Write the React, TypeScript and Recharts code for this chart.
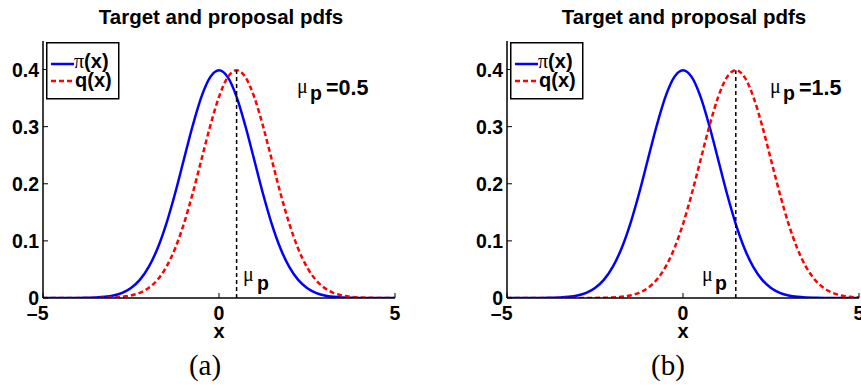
import React from 'react';
import { LineChart, Line, XAxis, YAxis, ReferenceLine, Legend } from 'recharts';

const xValues = [
  -5, -4.75, -4.5, -4.25, -4, -3.75, -3.5, -3.25, -3, -2.75, -2.5, -2.25, -2, -1.75, -1.5, -1.25, -1, -0.75, -0.5, -0.25,
  0, 0.25, 0.5, 0.75, 1, 1.25, 1.5, 1.75, 2, 2.25, 2.5, 2.75, 3, 3.25, 3.5, 3.75, 4, 4.25, 4.5, 4.75, 5,
];

// pi(x): target pdf
const targetPdf = [
  0, 0, 0, 0, 0.0001, 0.0004, 0.0009, 0.002, 0.0044, 0.0091, 0.0175, 0.0317, 0.054, 0.0863, 0.1295, 0.1826, 0.242, 0.3011, 0.3521, 0.3867,
  0.3989, 0.3867, 0.3521, 0.3011, 0.242, 0.1826, 0.1295, 0.0863, 0.054, 0.0317, 0.0175, 0.0091, 0.0044, 0.002, 0.0009, 0.0004, 0.0001, 0, 0, 0, 0,
];

// q(x): proposal pdf, panel (a)
const proposalPdfA = [
  0, 0, 0, 0, 0, 0, 0.0001, 0.0004, 0.0009, 0.002, 0.0044, 0.0091, 0.0175, 0.0317, 0.054, 0.0863, 0.1295, 0.1826, 0.242, 0.3011,
  0.3521, 0.3867, 0.3989, 0.3867, 0.3521, 0.3011, 0.242, 0.1826, 0.1295, 0.0863, 0.054, 0.0317, 0.0175, 0.0091, 0.0044, 0.002, 0.0009, 0.0004, 0.0001, 0, 0,
];

// q(x): proposal pdf, panel (b)
const proposalPdfB = [
  0, 0, 0, 0, 0, 0, 0, 0, 0, 0, 0.0001, 0.0004, 0.0009, 0.002, 0.0044, 0.0091, 0.0175, 0.0317, 0.054, 0.0863,
  0.1295, 0.1826, 0.242, 0.3011, 0.3521, 0.3867, 0.3989, 0.3867, 0.3521, 0.3011, 0.242, 0.1826, 0.1295, 0.0863, 0.054, 0.0317, 0.0175, 0.0091, 0.0044, 0.002, 0.0009,
];

const muA = 0.5;
const muB = 1.5;
const peakValue = 0.3989;

const xTicks = [-5, 0, 5];
const yTicks = [0, 0.1, 0.2, 0.3, 0.4];
const yTickLabels = ['0', '0.1', '0.2', '0.3', '0.4'];
const xDomain = [-5, 5];
const yDomain = [0, 0.45];

const chartTitle = 'Target and proposal pdfs';
const xAxisLabel = 'x';
const panelLabels = ['(a)', '(b)'];
const legendLabels = ['(x)', 'q(x)'];

const SANS = '"Liberation Sans", Arial, Helvetica, sans-serif';
const SERIF = '"Liberation Serif", "Times New Roman", serif';
const BLUE = '#0000ff';
const RED = '#ff0000';
const TICK_FS = 19.5;

const buildData = (proposal: number[]) =>
  xValues.map((x, i) => ({ x, target: targetPdf[i], proposal: proposal[i] }));

const dataA = buildData(proposalPdfA);
const dataB = buildData(proposalPdfB);

const BottomTick = (props: any) => {
  const { x, y, payload } = props;
  const v = payload.value as number;
  const neg = v < 0;
  const label = neg ? '\u2013' + Math.abs(v) : String(v);
  return (
    <g>
      <line x1={x} y1={y} x2={x} y2={y - 5} stroke="#000" strokeWidth={1} />
      <text
        x={neg ? x + 5.5 : x}
        y={y + 22}
        textAnchor={neg ? 'end' : 'middle'}
        fontFamily={SANS}
        fontWeight="bold"
        fontSize={TICK_FS}
        fill="#000"
      >
        {label}
      </text>
    </g>
  );
};

const LeftTick = (props: any) => {
  const { x, y, payload } = props;
  const idx = yTicks.indexOf(payload.value);
  return (
    <g>
      <line x1={x} y1={y} x2={x + 5} y2={y} stroke="#000" strokeWidth={1} />
      <text
        x={x - 4}
        y={y + 7}
        textAnchor="end"
        fontFamily={SANS}
        fontWeight="bold"
        fontSize={TICK_FS}
        fill="#000"
      >
        {idx >= 0 ? yTickLabels[idx] : String(payload.value)}
      </text>
    </g>
  );
};

const TopTick = (props: any) => {
  const { x, y } = props;
  return <line x1={x} y1={y} x2={x} y2={y + 5} stroke="#000" strokeWidth={1} />;
};

const RightTick = (props: any) => {
  const { x, y } = props;
  return <line x1={x} y1={y} x2={x - 5} y2={y} stroke="#000" strokeWidth={1} />;
};

const LegendBox = () => (
  <svg width={75} height={58} style={{ display: 'block' }}>
    <rect x={0.75} y={0.75} width={72} height={56} fill="#fff" stroke="#000" strokeWidth={1.5} />
    <line x1={5} y1={22} x2={28} y2={22} stroke={BLUE} strokeWidth={2.5} />
    <text x={28} y={26} fontSize={20} fill="#000">
      <tspan fontFamily={SERIF}>{'\u03c0'}</tspan>
      <tspan fontFamily={SANS} fontWeight="bold">{legendLabels[0]}</tspan>
    </text>
    <line x1={5} y1={39} x2={28} y2={39} stroke={RED} strokeWidth={2.5} strokeDasharray="5 3" />
    <text x={29} y={45} fontSize={20} fontFamily={SANS} fontWeight="bold" fill="#000">
      {legendLabels[1]}
    </text>
  </svg>
);

const Panel = ({ data, mu }: { data: any[]; mu: number }) => (
  <LineChart width={430} height={389} data={data} margin={{ top: 41, right: 35, bottom: 61, left: 0 }}>
    <XAxis
      dataKey="x"
      type="number"
      domain={xDomain}
      ticks={xTicks}
      allowDataOverflow
      height={30}
      tickSize={0}
      tickMargin={0}
      tickLine={false}
      axisLine={{ stroke: '#000', strokeWidth: 1.5 }}
      tick={<BottomTick />}
      interval={0}
    />
    <XAxis
      xAxisId="top"
      dataKey="x"
      type="number"
      orientation="top"
      domain={xDomain}
      ticks={xTicks}
      allowDataOverflow
      height={0}
      tickSize={0}
      tickMargin={0}
      tickLine={false}
      axisLine={{ stroke: '#000', strokeWidth: 1.5 }}
      tick={<TopTick />}
      interval={0}
    />
    <YAxis
      type="number"
      domain={yDomain}
      ticks={yTicks}
      allowDataOverflow
      width={43}
      tickSize={0}
      tickMargin={0}
      tickLine={false}
      axisLine={{ stroke: '#000', strokeWidth: 1.5 }}
      tick={<LeftTick />}
      interval={0}
    />
    <YAxis
      yAxisId="right"
      type="number"
      orientation="right"
      domain={yDomain}
      ticks={yTicks}
      allowDataOverflow
      width={0}
      tickSize={0}
      tickMargin={0}
      tickLine={false}
      axisLine={{ stroke: '#000', strokeWidth: 1.5 }}
      tick={<RightTick />}
      interval={0}
    />
    <Line
      type="monotone"
      dataKey="target"
      stroke={BLUE}
      strokeWidth={2.5}
      dot={false}
      isAnimationActive={false}
    />
    <Line
      type="monotone"
      dataKey="proposal"
      stroke={RED}
      strokeWidth={2.5}
      strokeDasharray="5 3"
      dot={false}
      isAnimationActive={false}
    />
    <ReferenceLine
      segment={[
        { x: mu, y: 0 },
        { x: mu, y: peakValue },
      ]}
      stroke="#000"
      strokeWidth={1.5}
      strokeDasharray="4 3"
      ifOverflow="visible"
    />
    <Legend
      layout="vertical"
      align="center"
      verticalAlign="middle"
      wrapperStyle={{ left: 46, top: 42, width: 75, height: 58 }}
      content={() => <LegendBox />}
    />
  </LineChart>
);

const MuP = ({ x, y, pdx, pdy }: { x: number; y: number; pdx: number; pdy: number }) => (
  <text x={x} y={y} fill="#000">
    <tspan fontFamily={SERIF} fontSize={20}>{'\u03bc'}</tspan>
    <tspan x={x + pdx} dy={pdy} fontFamily={SANS} fontWeight="bold" fontSize={19.5}>
      p
    </tspan>
  </text>
);

export default function App() {
  return (
    <div
      style={{
        position: 'absolute',
        left: 0,
        top: 0,
        width: 861,
        height: 389,
        overflow: 'hidden',
        background: '#fff',
        fontFamily: SANS,
      }}
    >
      <div style={{ position: 'absolute', left: 0, top: 0 }}>
        <Panel data={dataA} mu={muA} />
      </div>
      <div style={{ position: 'absolute', left: 464, top: 0 }}>
        <Panel data={dataB} mu={muB} />
      </div>
      <svg
        width={861}
        height={389}
        style={{ position: 'absolute', left: 0, top: 0, pointerEvents: 'none' }}
      >
        <text x={221} y={24} textAnchor="middle" fontFamily={SANS} fontWeight="bold" fontSize={20.5} fill="#000">
          {chartTitle}
        </text>
        <text x={684} y={24} textAnchor="middle" fontFamily={SANS} fontWeight="bold" fontSize={20.5} fill="#000">
          {chartTitle}
        </text>

        <text x={219} y={338} textAnchor="middle" fontFamily={SANS} fontWeight="bold" fontSize={20} fill="#000">
          {xAxisLabel}
        </text>
        <text x={683} y={338} textAnchor="middle" fontFamily={SANS} fontWeight="bold" fontSize={20} fill="#000">
          {xAxisLabel}
        </text>

        {/* top-right annotations */}
        <MuP x={297} y={93} pdx={13} pdy={7} />
        <text x={326} y={95} fontFamily={SANS} fontWeight="bold" fontSize={21.5} fill="#000">
          {'=' + muA}
        </text>
        <MuP x={770} y={93} pdx={13} pdy={7} />
        <text x={799} y={95} fontFamily={SANS} fontWeight="bold" fontSize={21.5} fill="#000">
          {'=' + muB}
        </text>

        {/* labels by the dashed lines */}
        <MuP x={243} y={281} pdx={14} pdy={9} />
        <MuP x={702} y={281} pdx={13} pdy={9} />

        <text x={205} y={375} textAnchor="middle" fontFamily={SERIF} fontSize={29} fill="#000">
          {panelLabels[0]}
        </text>
        <text x={668} y={375} textAnchor="middle" fontFamily={SERIF} fontSize={29} fill="#000">
          {panelLabels[1]}
        </text>
      </svg>
    </div>
  );
}
